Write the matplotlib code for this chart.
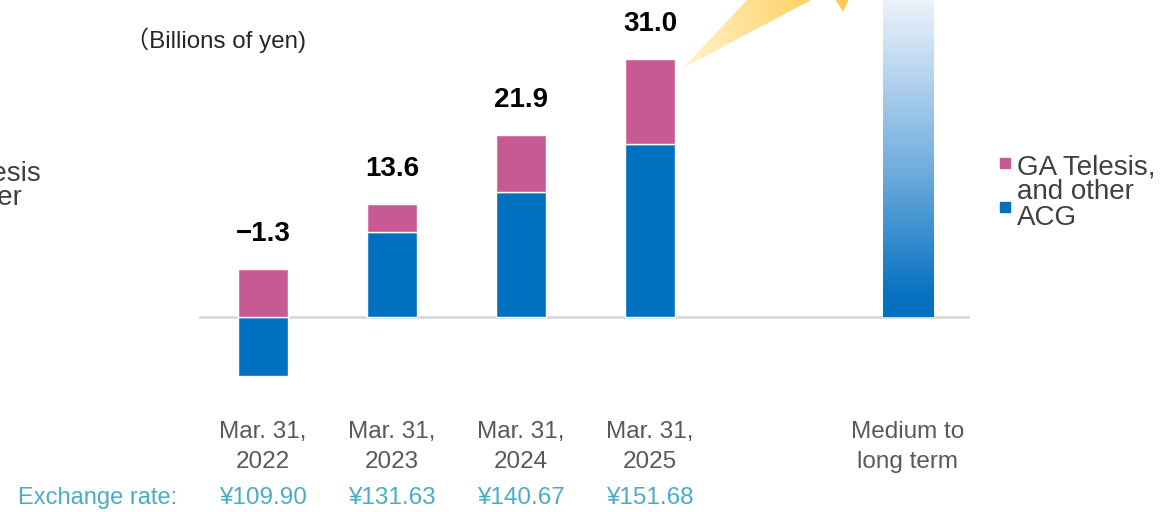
import numpy as np
import matplotlib
matplotlib.use("Agg")
import matplotlib.pyplot as plt
from matplotlib.colors import LinearSegmentedColormap
from matplotlib.patches import Polygon

plt.rcParams['font.family'] = ['Liberation Sans', 'Noto Sans CJK JP', 'DejaVu Sans']

# data (billions of yen)
categories = ["Mar. 31,\n2022", "Mar. 31,\n2023", "Mar. 31,\n2024", "Mar. 31,\n2025", "Medium to\nlong term"]
positions = [0, 1, 2, 3, 5]
acg = [-7.1, 10.2, 15.0, 20.8]
ga_other = [5.8, 3.4, 6.9, 10.2]
totals = ["\u22121.3", "13.6", "21.9", "31.0"]
fx_rates = ["\u00a5109.90", "\u00a5131.63", "\u00a5140.67", "\u00a5151.68"]
medium_term = 40.0

PINK = '#c85a93'
BLUE = '#0070c0'
GREY_TXT = '#595959'
FX_COL = '#4bacc6'
LEG_TXT = '#404040'

W, H = 1168, 512
fig = plt.figure(figsize=(W / 100, H / 100), dpi=100)

# overlay axes in pixel coords for decoration
oax = fig.add_axes([0, 0, 1, 1])
oax.set_xlim(0, W)
oax.set_ylim(H, 0)
oax.axis('off')

ax = fig.add_axes([199 / W, 0, 771 / W, 1])
ax.patch.set_alpha(0)
ax.axis('off')
ax.set_xlim(-0.496, 5.481)
ax.set_ylim(-23.44, 38.1)

bw = 0.39
ax.axhline(0, color='#d9d9d9', lw=2, zorder=1)
ax.bar(positions[:4], acg, width=bw, color=BLUE, edgecolor='white', lw=1, zorder=2)
bottoms = [max(a, 0) for a in acg]
ax.bar(positions[:4], ga_other, bottom=bottoms, width=bw, color=PINK,
       edgecolor='white', lw=1, zorder=2)

# gradient bar for medium term
rect = ax.bar([positions[4]], [medium_term], width=bw, color='none', zorder=2)[0]
cmap = LinearSegmentedColormap.from_list('mt', [(0, BLUE), (0.08, '#0a73c2'),
                                                (0.5, '#79b2e0'), (1, '#ecf3fb')])
grad = np.linspace(0, 1, 256).reshape(-1, 1)
im = ax.imshow(grad, cmap=cmap, origin='lower', aspect='auto',
               extent=(positions[4] - bw / 2, positions[4] + bw / 2, 0, 38.1), zorder=2)
im.set_clip_path(rect)
ax.set_xlim(-0.496, 5.481)
ax.set_ylim(-23.44, 38.1)

# total labels
for x, a, g, t in zip(positions, acg, ga_other, totals):
    top = max(a, 0) + g
    ax.annotate(t, (x, top), xytext=(0, 25), textcoords='offset points',
                ha='center', va='center', fontsize=20, fontweight='bold', color='black')

# category labels and exchange rates
tr = ax.get_xaxis_transform()
for x, c in zip(positions, categories):
    ax.text(x, 1 - 447 / H, c, transform=tr, ha='center', va='center',
            fontsize=17.5, color=GREY_TXT, linespacing=1.45)
for x, r in zip(positions, fx_rates):
    ax.text(x, 1 - 498 / H, r, transform=tr, ha='center', va='center',
            fontsize=17.5, color=FX_COL)
oax.text(18, 498, "Exchange rate:", ha='left', va='center', fontsize=17, color=FX_COL)

oax.text(125, 40, "\uff08Billions of yen)", ha='left', va='center', fontsize=17.4, color='#262626')

# legend
oax.scatter([1005], [163], marker='s', s=45, color=PINK)
oax.scatter([1005], [207], marker='s', s=45, color=BLUE)
oax.text(1017, 175, "GA Telesis,", ha='left', va='baseline', fontsize=20, color=LEG_TXT)
oax.text(1017, 199, "and other", ha='left', va='baseline', fontsize=20, color=LEG_TXT)
oax.text(1017, 225, "ACG", ha='left', va='baseline', fontsize=20, color=LEG_TXT)
# cut-off copy at the left edge
oax.text(41, 181, "GA Telesis", ha='right', va='baseline', fontsize=20, color=LEG_TXT)
oax.text(22, 205, "and other", ha='right', va='baseline', fontsize=20, color=LEG_TXT)

# yellow arrow
acmap = LinearSegmentedColormap.from_list('ar', ['#fff3d0', '#ffc94a'])
xs, ys = np.meshgrid(np.linspace(680, 852, 200), np.linspace(0, 70, 100))
d = np.array([850 - 683, 0 - 68.0])
proj = ((xs - 683) * d[0] + (ys - 68) * d[1]) / (d @ d)
shaft = Polygon([(683, 68), (748, -1), (813, -1)], closed=True, fc='none', ec='none')
barb = Polygon([(835, -1), (843, 12), (849, -1)], closed=True, fc='none', ec='none')
for p in (shaft, barb):
    oax.add_patch(p)
    im2 = oax.imshow(proj, cmap=acmap, extent=(680, 852, 70, 0), aspect='auto', vmin=0, vmax=1)
    im2.set_clip_path(p)
oax.set_xlim(0, W)
oax.set_ylim(H, 0)

fig.savefig('out.png', dpi=100)
